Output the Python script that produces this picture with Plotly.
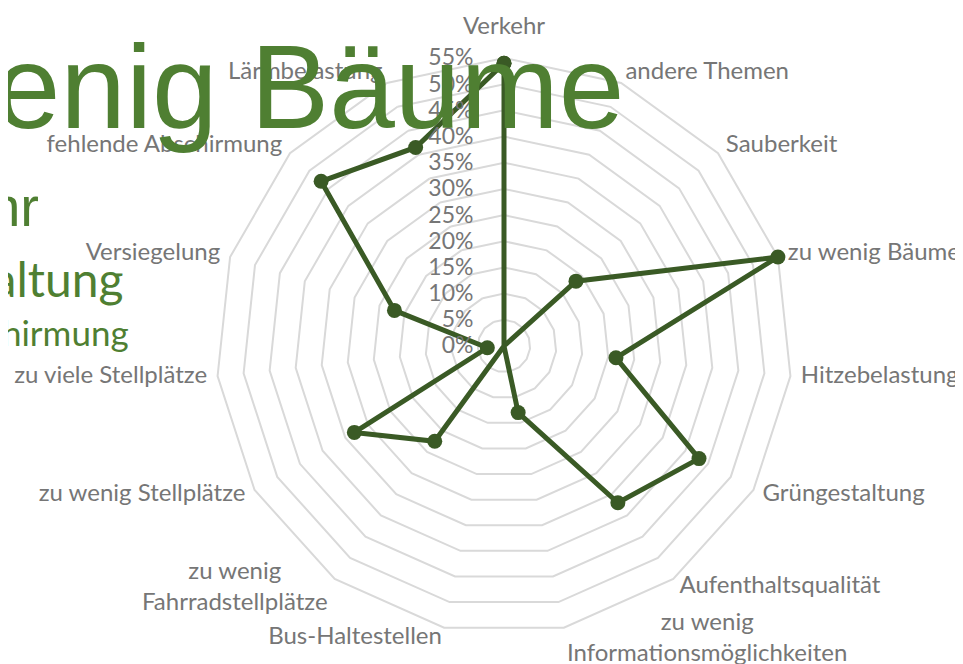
import math
import plotly.graph_objects as go

categories = [
    "Verkehr", "andere Themen", "Sauberkeit", "zu wenig Bäume", "Hitzebelastung",
    "Grüngestaltung", "Aufenthaltsqualität", "zu wenig<br>Informationsmöglichkeiten",
    "Bus-Haltestellen", "zu wenig<br>Fahrradstellplätze", "zu wenig Stellplätze",
    "zu viele Stellplätze", "Versiegelung", "fehlende Abschirmung", "Lärmbelastung",
]
values = [54, 0, 18.5, 55, 21.5, 43, 37, 13, 0, 22.5, 33, 3.2, 22, 47, 41.5]
radial_ticks = [0, 5, 10, 15, 20, 25, 30, 35, 40, 45, 50, 55]
radial_labels = [f"{t}%" for t in radial_ticks]

# word-cloud overlay words
cloud_words = ["zu wenig Bäume", "Verkehr", "Grüngestaltung", "fehlende Abschirmung"]
cloud_fonts = ["Liberation Sans", "Liberation Sans", "Lato", "Lato"]
cloud_sizes = [118, 56, 48, 35]
cloud_x = [0.6422, 0.0343, 0.1226, 0.1277]
cloud_y = [0.8809, 0.7015, 0.592, 0.512]

LINE = "#3a5a25"
GREEN = "#4f7f32"
GRAY = "#767676"
GRID = "#d9d9d9"

# page body has an 8px margin -> shift everything by 8px
W, H = 963, 664
OFF = 8
CX, CY = 504 - OFF, 346 - OFF
R_MAX_VAL = 55          # outermost gridline value
R_MAX_PX = 288          # its radius in pixels
AX_MAX = 60             # radial range extends a bit so labels can sit outside
R = R_MAX_PX * AX_MAX / R_MAX_VAL
PX_PER_UNIT = R_MAX_PX / R_MAX_VAL

n = len(categories)
label_r = [58.5] + [57] * (n - 1)
label_pos = ["top center"] + ["middle right"] * 7 + ["middle left"] * 7
multiline = ["<br>" in c for c in categories]
trace_text = ["" if m else c for c, m in zip(categories, multiline)]

theta = categories + [categories[0]]
r = values + [values[0]]

fig = go.Figure()
fig.add_trace(go.Scatterpolar(
    r=r, theta=theta, mode="lines+markers",
    line=dict(color=LINE, width=5),
    marker=dict(color=LINE, size=15),
    hoverinfo="skip", showlegend=False,
))
fig.add_trace(go.Scatterpolar(
    r=label_r, theta=categories, mode="text",
    text=trace_text, textposition=label_pos, cliponaxis=False,
    textfont=dict(family="Lato", size=24, color=GRAY),
    hoverinfo="skip", showlegend=False,
))

# multi-line category labels: centred lines, placed from the polar geometry
for i, (c, m) in enumerate(zip(categories, multiline)):
    if not m:
        continue
    a = math.radians(360 / n * i)
    rho = label_r[i] * PX_PER_UNIT
    px = CX + rho * math.sin(a)
    py = CY - rho * math.cos(a)
    right_side = math.sin(a) > 0
    fig.add_annotation(
        text=c, xref="paper", yref="paper", x=px / W, y=1 - py / H,
        xanchor="left" if right_side else "right", yanchor="middle",
        xshift=-1 if right_side else 1, yshift=2,
        align="center", showarrow=False,
        font=dict(family="Lato", size=24, color=GRAY),
    )

fig.update_layout(
    width=W, height=H,
    margin=dict(l=0, r=0, t=0, b=0),
    paper_bgcolor="white", plot_bgcolor="white",
    font=dict(family="Lato", color=GRAY, size=24),
    polar=dict(
        domain=dict(x=[(CX - R) / W, (CX + R) / W],
                    y=[(H - CY - R) / H, (H - CY + R) / H]),
        bgcolor="white",
        gridshape="linear",
        angularaxis=dict(
            rotation=90, direction="clockwise",
            categoryorder="array", categoryarray=categories,
            showgrid=False, showline=False,
            ticks="", showticklabels=False,
        ),
        radialaxis=dict(
            range=[0, AX_MAX], tickvals=radial_ticks, ticktext=radial_labels,
            angle=90, tickangle=90, side="counterclockwise",
            showline=False, ticks="outside", ticklen=22,
            tickcolor="rgba(0,0,0,0)",
            gridcolor=GRID, gridwidth=2,
            tickfont=dict(family="Lato", size=23, color=GRAY),
        ),
    ),
)

for w, f, s, x, y in zip(cloud_words, cloud_fonts, cloud_sizes, cloud_x, cloud_y):
    fig.add_annotation(
        text=w, xref="paper", yref="paper", x=x, y=y,
        xanchor="right", yanchor="middle", showarrow=False,
        font=dict(family=f, size=s, color=GREEN),
    )

fig.write_html("out.html")
